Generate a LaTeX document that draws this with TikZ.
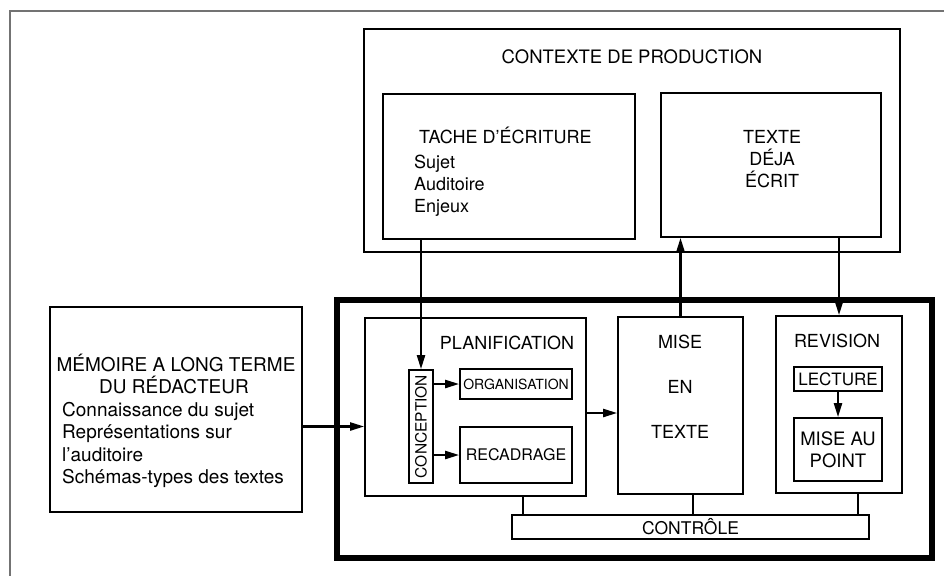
\documentclass[tikz,border=0pt]{standalone}
\usepackage{fontspec}
\setmainfont{TeX Gyre Heros}
\usetikzlibrary{arrows.meta}
\newcommand{\fsz}[1]{\fontsize{#1}{#1}\selectfont}
\begin{document}
\begin{tikzpicture}[x=1pt,y=-1pt,
  box/.style={draw, line width=1.7pt, inner sep=0pt},
  thickbox/.style={draw, line width=5.5pt, inner sep=0pt},
  lbl/.style={inner sep=0pt, font=\fsz{18}},
  arr/.style={line width=2.2pt, -{Triangle[length=14pt,width=8pt]}},
  link/.style={line width=1.7pt},
  frame/.style={line width=1.8pt, draw=black!55}]
\useasboundingbox (0,0) rectangle (944,576);
\fill[white] (0,0) rectangle (944,576);
% page frame (top and left edges only)
\coordinate (fc) at (10,11);
\coordinate (fr) at (944,11);
\coordinate (fb) at (10,576);
\draw[frame] (fr) -- (fc) -- (fb);

% context box
\node[box, minimum width=536pt, minimum height=223pt] (ctx) at (632,140.5) {};
\node[lbl, font=\fsz{18.5}, anchor=base] (ctxl) at (632,63) {CONTEXTE DE PRODUCTION};
\node[box, minimum width=252pt, minimum height=145pt] (tache) at (509,166.5) {};
\node[lbl, anchor=base west] (t1) at (419,143.5) {TACHE D’ÉCRITURE};
\node[lbl, anchor=base west] (t2) at (414,168.5) {Sujet};
\node[lbl, anchor=base west] (t3) at (414,190) {Auditoire};
\node[lbl, anchor=base west] (t4) at (414,212.5) {Enjeux};
\node[box, minimum width=220pt, minimum height=144pt] (texte) at (771,165) {};
\node[lbl, anchor=base] (x1) at (772,143.5) {TEXTE};
\node[lbl, anchor=base] (x2) at (772,165.5) {DÉJA};
\node[lbl, anchor=base] (x3) at (772,187.5) {ÉCRIT};

% memory box
\node[box, minimum width=252pt, minimum height=205pt] (mem) at (176,409.5) {};
\node[lbl, font=\fsz{19}, anchor=base] (m1) at (176,371.5) {MÉMOIRE A LONG TERME};
\node[lbl, font=\fsz{19}, anchor=base] (m2) at (174,393) {DU RÉDACTEUR};
\node[lbl, font=\fsz{19}, anchor=base west] (m3) at (62,416) {Connaissance du sujet};
\node[lbl, font=\fsz{19}, anchor=base west] (m4) at (62,438.5) {Représentations sur};
\node[lbl, font=\fsz{19}, anchor=base west] (m5) at (62,461) {l’auditoire};
\node[lbl, font=\fsz{19}, anchor=base west] (m6) at (62,483.5) {Schémas-types des textes};

% writer process box
\node[thickbox, minimum width=595pt, minimum height=258pt] (proc) at (634.5,429) {};

% planification
\node[box, minimum width=221pt, minimum height=178pt] (plan) at (475.5,407) {};
\node[lbl, anchor=base] (pl) at (507,349) {PLANIFICATION};
\node[box, minimum width=24pt, minimum height=113pt] (concept) at (421,426.5) {};
\node[lbl, font=\fsz{15.5}, rotate=90] (conl) at (concept.center) {CONCEPTION};
\node[box, minimum width=112pt, minimum height=30pt, font=\fsz{14}] (org) at (516,384) {ORGANISATION};
\node[box, minimum width=112pt, minimum height=56pt, font=\fsz{16}] (recad) at (516,455) {RECADRAGE};

% mise en texte
\node[box, minimum width=125pt, minimum height=177pt] (mise) at (680.5,405.5) {};
\node[lbl, anchor=base] (mi1) at (680,348) {MISE};
\node[lbl, anchor=base] (mi2) at (680,393) {EN};
\node[lbl, anchor=base] (mi3) at (680,438) {TEXTE};

% revision
\node[box, minimum width=126pt, minimum height=177pt] (rev) at (839,404.5) {};
\node[lbl, anchor=base] (rl) at (837,347) {REVISION};
\node[box, minimum width=88pt, minimum height=24pt, font=\fsz{17}] (lect) at (838,379) {LECTURE};
\node[box, minimum width=88pt, minimum height=63pt, align=center, font=\fontsize{18.5}{22}\selectfont] (map) at (838,449.5) {MISE AU\\POINT};

% controle
\node[box, minimum width=357pt, minimum height=24pt, font=\fsz{17.5}] (ctrl) at (690.5,527) {CONTRÔLE};

% connectors
\draw[arr] (concept.north |- tache.south) -- (concept.north);
\draw[arr] (mise.north) -- (mise.north |- texte.south);
\draw[arr] (rev.north |- texte.south) -- (rev.north);
\draw[arr] (mem.east |- concept.center) -- (plan.west |- concept.center);
\draw[arr] (concept.east |- org.west) -- (org.west);
\draw[arr] (concept.east |- recad.west) -- (recad.west);
\draw[arr] ([yshift=-6pt]plan.east) -- ([yshift=-6pt]plan.east -| mise.west);
\draw[arr] (lect.south) -- (map.north);
\draw[link] ([xshift=47.5pt]plan.south) -- ([xshift=47.5pt]plan.south |- ctrl.north);
\draw[link] ([xshift=12.5pt]mise.south) -- ([xshift=12.5pt]mise.south |- ctrl.north);
\draw[link] ([xshift=19pt]rev.south) -- ([xshift=19pt]rev.south |- ctrl.north);
\end{tikzpicture}
\end{document}
